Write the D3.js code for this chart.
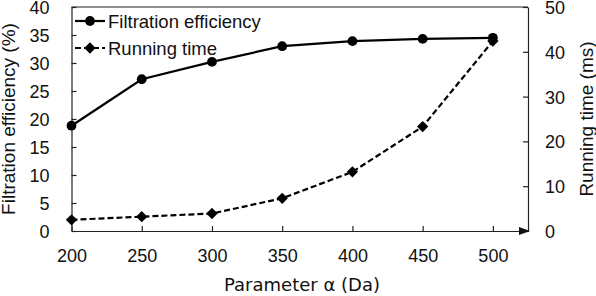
<!DOCTYPE html>
<html>
<head>
<meta charset="utf-8">
<script src="https://cdn.jsdelivr.net/npm/d3@7"></script>
<style>
  body { margin: 0; background: #fff; }
  text { font-family: "Liberation Sans", Arial, sans-serif; fill: #111; }
</style>
</head>
<body>
<div id="chart"></div>
<script>
var alphas = [200, 250, 300, 350, 400, 450, 500];
var efficiency = [18.8, 27.1, 30.2, 33.0, 33.9, 34.3, 34.5];
var runningTime = [2.5, 3.2, 3.9, 7.3, 13.2, 23.3, 42.4];
var leftTicks = [0, 5, 10, 15, 20, 25, 30, 35, 40];
var rightTicks = [0, 10, 20, 30, 40, 50];
var seriesNames = ["Filtration efficiency", "Running time"];

var width = 596,
  height = 296,
  plotL = 71.5, plotR = 528, plotT = 7, plotB = 231;

var svg = d3.select("#chart").append("svg")
  .attr("width", width)
  .attr("height", height);

var x = d3.scaleLinear().domain([200, 525]).range([plotL, plotR]);
var yL = d3.scaleLinear().domain([0, 40]).range([plotB, plotT]);
var yR = d3.scaleLinear().domain([0, 50]).range([plotB, plotT]);

// frame: top line and the two y axes
svg.append("line")
  .attr("x1", plotL).attr("x2", plotR).attr("y1", plotT).attr("y2", plotT)
  .attr("stroke", "#222").attr("stroke-width", 1.2);

var axL = svg.append("g")
  .attr("transform", "translate(" + plotL + ",0)")
  .call(d3.axisLeft(yL).tickValues(leftTicks).tickSizeInner(-5).tickSizeOuter(0).tickPadding(22));
var axR = svg.append("g")
  .attr("transform", "translate(" + plotR + ",0)")
  .call(d3.axisRight(yR).tickValues(rightTicks).tickSizeInner(-5).tickSizeOuter(0).tickPadding(17));
var axB = svg.append("g")
  .attr("transform", "translate(0," + plotB + ")")
  .call(d3.axisBottom(x).tickValues(alphas).tickSizeInner(-5).tickSizeOuter(0).tickPadding(18));

[axL, axR, axB].forEach(function(g) {
  g.select(".domain").attr("stroke", "#222").attr("stroke-width", 1.2);
  g.selectAll(".tick line").attr("stroke", "#222").attr("stroke-width", 1.2);
  g.selectAll(".tick text").style("font-size", "18px").attr("fill", "#111");
});
axL.selectAll(".tick text").attr("dy", "0.36em");
axR.selectAll(".tick text").attr("dy", "0.36em");
axB.selectAll(".tick text").attr("dy", "0.71em");

// arrow at end of x axis
svg.append("path")
  .attr("d", "M" + (plotR + 2) + "," + plotB + "l-11,-4l0,8z")
  .attr("fill", "#111");

// axis titles
svg.append("text")
  .attr("x", 302).attr("y", 291)
  .attr("text-anchor", "middle")
  .style("font-family", "'DejaVu Sans', sans-serif")
  .style("font-size", "18px")
  .text("Parameter α (Da)");

svg.append("text")
  .attr("transform", "translate(15," + (plotT + plotB) / 2 + ") rotate(-90)")
  .attr("text-anchor", "middle")
  .style("font-size", "19px")
  .text("Filtration efficiency (%)");

svg.append("text")
  .attr("transform", "translate(593," + (plotT + plotB) / 2 + ") rotate(-90)")
  .attr("text-anchor", "middle")
  .style("font-size", "19px")
  .text("Running time (ms)");

// lines
var effLine = d3.line()
  .x(function(d, i) { return x(alphas[i]); })
  .y(function(d) { return yL(d); });
var timeLine = d3.line()
  .x(function(d, i) { return x(alphas[i]); })
  .y(function(d) { return yR(d); });

svg.append("path")
  .attr("d", effLine(efficiency))
  .attr("fill", "none").attr("stroke", "#000").attr("stroke-width", 2.2);

svg.append("path")
  .attr("d", timeLine(runningTime))
  .attr("fill", "none").attr("stroke", "#000").attr("stroke-width", 2.2)
  .attr("stroke-dasharray", "6,3");

var circle = d3.symbol().type(d3.symbolCircle).size(75);
var diamond = d3.symbol().type(d3.symbolSquare).size(64);

svg.selectAll(".effPt")
  .data(efficiency)
  .enter().append("path")
  .attr("class", "effPt")
  .attr("d", circle)
  .attr("transform", function(d, i) { return "translate(" + x(alphas[i]) + "," + yL(d) + ")"; })
  .attr("fill", "#000");

svg.selectAll(".timePt")
  .data(runningTime)
  .enter().append("path")
  .attr("class", "timePt")
  .attr("d", diamond)
  .attr("transform", function(d, i) { return "translate(" + x(alphas[i]) + "," + yR(d) + ") rotate(45)"; })
  .attr("fill", "#000");

// legend
var legend = svg.append("g").attr("transform", "translate(75,21)");
seriesNames.forEach(function(name, i) {
  var g = legend.append("g").attr("transform", "translate(0," + i * 27 + ")");
  g.append("line")
    .attr("x1", 0).attr("x2", 30).attr("y1", 0).attr("y2", 0)
    .attr("stroke", "#000").attr("stroke-width", 2.2)
    .attr("stroke-dasharray", i === 0 ? null : "6,3");
  g.append("path")
    .attr("d", i === 0 ? circle : diamond)
    .attr("transform", "translate(15,0)" + (i === 0 ? "" : " rotate(45)"))
    .attr("fill", "#000");
  g.append("text")
    .attr("x", 33).attr("y", 0).attr("dy", "0.4em")
    .style("font-size", "18.5px")
    .text(name);
});
</script>
</body>
</html>
